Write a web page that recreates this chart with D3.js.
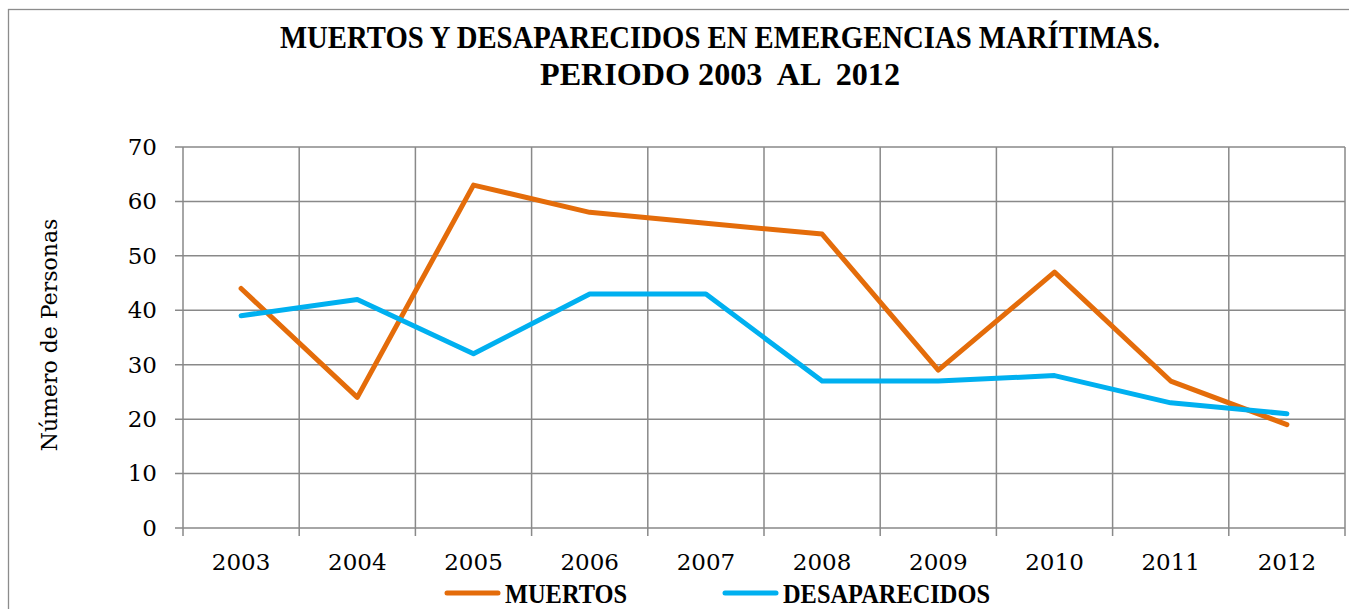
<!DOCTYPE html>
<html>
<head>
<meta charset="utf-8">
<script src="https://cdn.jsdelivr.net/npm/d3@7"></script>
<style>
  body { margin: 0; background: #fff; }
  svg text { font-family: "DejaVu Serif", "Liberation Serif", serif; fill: #000; }
  .title, .legend-label { font-family: "Liberation Serif", serif; font-weight: bold; }
</style>
</head>
<body>
<svg id="chart"></svg>
<script>
// data
const years = ["2003", "2004", "2005", "2006", "2007", "2008", "2009", "2010", "2011", "2012"];
const muertos = [44, 24, 63, 58, 56, 54, 29, 47, 27, 19];
const desaparecidos = [39, 42, 32, 43, 43, 27, 27, 28, 23, 21];
const yTicks = [0, 10, 20, 30, 40, 50, 60, 70];
const seriesNames = ["MUERTOS", "DESAPARECIDOS"];
const seriesColors = ["#E46C0A", "#00B0F0"];
const titleLines = ["MUERTOS Y DESAPARECIDOS EN EMERGENCIAS MARÍTIMAS.", "PERIODO 2003  AL  2012"];

const W = 1349, H = 609;
const margin = { top: 147, right: 4, bottom: 81, left: 183 };
const width = W - margin.left - margin.right;
const height = H - margin.top - margin.bottom;

const svg = d3.select("#chart").attr("width", W).attr("height", H);

// outer frame (cut off at right and bottom like the original)
svg.append("rect")
  .attr("x", 8.5).attr("y", 9.5)
  .attr("width", W).attr("height", H)
  .attr("fill", "none").attr("stroke", "#8c8c8c").attr("stroke-width", 1.3);

// title, squeezed a little to get the narrow bold face of the original
const titleLen = [880, 360];
const titleY = [48, 85];
titleLines.forEach((t, i) => {
  svg.append("text").attr("class", "title")
    .attr("x", 720).attr("y", titleY[i])
    .attr("text-anchor", "middle").attr("font-size", 32)
    .attr("xml:space", "preserve")
    .attr("textLength", titleLen[i]).attr("lengthAdjust", "spacingAndGlyphs")
    .text(t);
});

const g = svg.append("g").attr("transform", `translate(${margin.left},${margin.top})`);

const x = d3.scaleBand().domain(years).range([0, width]);
const y = d3.scaleLinear().domain([0, 70]).range([height, 0]);

const gridColor = "#898989";

// horizontal gridlines
g.append("g").selectAll("line").data(yTicks).join("line")
  .attr("x1", -8).attr("x2", width)
  .attr("y1", d => y(d)).attr("y2", d => y(d))
  .attr("stroke", gridColor).attr("stroke-width", 1.5);

// vertical gridlines on band edges
const edges = years.map(d => x(d)).concat([width]);
g.append("g").selectAll("line").data(edges).join("line")
  .attr("x1", d => d).attr("x2", d => d)
  .attr("y1", 0).attr("y2", height + 8)
  .attr("stroke", gridColor).attr("stroke-width", 1.5);

// y axis labels
const yAxis = d3.axisLeft(y).tickValues(yTicks).tickSize(0).tickPadding(26);
g.append("g").call(yAxis)
  .call(a => a.select(".domain").remove())
  .selectAll("text").attr("font-size", 23).attr("font-family", null);

// x axis labels
const xAxis = d3.axisBottom(x).tickSize(0).tickPadding(26);
g.append("g").attr("transform", `translate(0,${height})`).call(xAxis)
  .call(a => a.select(".domain").remove())
  .selectAll("text").attr("font-size", 23).attr("font-family", null);

svg.append("text")
  .attr("transform", `translate(57,335) rotate(-90)`)
  .attr("text-anchor", "middle").attr("font-size", 22)
  .text("Número de Personas");

const line = d3.line()
  .x((d, i) => x(years[i]) + x.bandwidth() / 2)
  .y(d => y(d));

[muertos, desaparecidos].forEach((s, i) => {
  g.append("path").datum(s)
    .attr("d", line)
    .attr("fill", "none")
    .attr("stroke", seriesColors[i])
    .attr("stroke-width", 5)
    .attr("stroke-linejoin", "round")
    .attr("stroke-linecap", "round");
});

// legend
const legendX = [447, 725];
const legendLen = [122, 207];
const legend = svg.append("g");
seriesNames.forEach((name, i) => {
  legend.append("line")
    .attr("x1", legendX[i]).attr("x2", legendX[i] + 51)
    .attr("y1", 593).attr("y2", 593)
    .attr("stroke", seriesColors[i]).attr("stroke-width", 5)
    .attr("stroke-linecap", "round");
  legend.append("text").attr("class", "legend-label")
    .attr("x", legendX[i] + 58).attr("y", 603)
    .attr("font-size", 27)
    .attr("textLength", legendLen[i]).attr("lengthAdjust", "spacingAndGlyphs")
    .text(name);
});
</script>
</body>
</html>
